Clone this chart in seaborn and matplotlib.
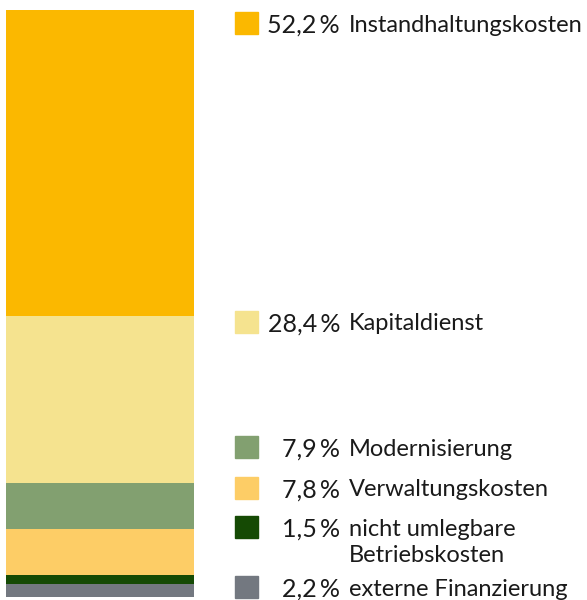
import matplotlib
matplotlib.use("Agg")
import matplotlib.pyplot as plt
import seaborn as sns
from matplotlib.patches import Rectangle

# data, top of the bar first
labels = ["Instandhaltungskosten", "Kapitaldienst", "Modernisierung",
          "Verwaltungskosten", "nicht umlegbare\nBetriebskosten", "externe Finanzierung"]
values = [52.2, 28.4, 7.9, 7.8, 1.5, 2.2]
pct_text = ["52,2 %", "28,4 %", "7,9 %", "7,8 %", "1,5 %", "2,2 %"]
colors = ["#FBB800", "#F5E38F", "#82A070", "#FDCD66", "#154A04", "#737880"]

sns.set_theme(style="white")
plt.rcParams["font.family"] = ["Lato", "DejaVu Sans"]

fig = plt.figure(figsize=(5.87, 6.0), dpi=100)
ax = fig.add_axes([6 / 587, 3 / 600, 188 / 587, 587 / 600])

# stacked bar: draw cumulative heights, biggest first
total = sum(values)
cum = total
for v, c in zip(values, colors):
    sns.barplot(x=["x"], y=[cum], color=c, width=1.0, ax=ax,
                saturation=1, linewidth=0)
    cum -= v

ax.set_xlim(-0.5, 0.5)
ax.set_ylim(0, total)
ax.axis("off")

# legend on the right (y in pixels from top)
row_y = [23, 322, 447, 488, 527, 587]
text_col = "#1a1a1a"
for lab, pt, c, y in zip(labels, pct_text, colors, row_y):
    fy = 1 - y / 600
    fig.patches.append(Rectangle((235 / 587, fy - 11 / 600), 23 / 587, 22 / 600,
                                 transform=fig.transFigure, color=c))
    fig.text(340 / 587, fy, pt.replace(" ", "\u2009"), ha="right", va="center_baseline",
             fontsize=18, color=text_col)
    for i, line in enumerate(lab.split("\n")):
        fig.text(349 / 587, fy - i * 26 / 600, line, ha="left", va="center_baseline",
                 fontsize=17, color=text_col)

fig.savefig("out.png", dpi=100)
